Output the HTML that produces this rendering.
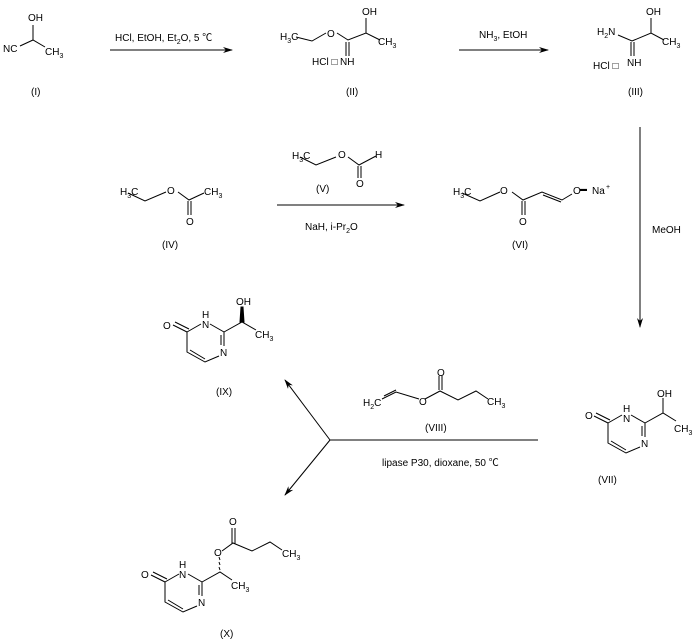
<!DOCTYPE html>
<html><head><meta charset="utf-8"><style>
html,body{margin:0;padding:0;background:#fff;}
svg{display:block;}
text{font-family:"Liberation Sans","Noto Sans CJK SC",sans-serif;font-size:10px;fill:#000;}
.s{font-size:7px;}
</style></head><body>
<svg width="700" height="642" viewBox="0 0 700 642" xmlns="http://www.w3.org/2000/svg">
<defs><marker id="a" markerWidth="10" markerHeight="6" refX="9" refY="3" orient="auto" markerUnits="userSpaceOnUse"><path d="M0,0 L10,3 L0,6 L3,3Z" fill="#000"/></marker></defs>
<g stroke="#000" stroke-width="1" fill="none">
<path d="M33,25 L33,40 M20,46 L33,40 L45,47"/>
<path d="M110,50 L232,50" marker-end="url(#a)"/>
<path d="M296,37 L312,41 L326,33 M337,33 L348,40 L366,33 L380,40 M366,33 L366,18 M346,42 L346,56 M349,42 L349,56"/>
<path d="M459,50 L548,50" marker-end="url(#a)"/>
<path d="M618,35 L632,41 L651,33 L664,40 M651,33 L651,18 M631,42 L631,56 M634,42 L634,56"/>
<path d="M128,193 L145,201 L166,192 M178,192 L189,200 L204,193 M188,201 L188,215 M191,201 L191,215"/>
<path d="M300,157 L316,165 L336,157 M348,157 L359,165 L376,156 M358,166 L358,178 M361,166 L361,178"/>
<path d="M277,205 L404,205" marker-end="url(#a)"/>
<path d="M462,193 L480,201 L500,192 M512,192 L523,200 L542,192 L562,200 L572,194 M543,195 L561,202 M522,201 L522,215 M525,201 L525,215"/>
<path d="M640,127 L640,327" marker-end="url(#a)"/>
<path d="M173,325 L187,332 M175,322 L189,329 M187,332 L201,324 M210,324 L224,332 L224,346 M221,335 L221,345 M219,356 L205,362 L187,352 L187,332 M190,350 L205,359 M224,332 L242,322 L256,330"/>
<path d="M240,322 L244,322 L243,307 L241,307Z" fill="#000"/>
<path d="M538,440 L330,440"/>
<path d="M330,440 L285,380" marker-end="url(#a)"/>
<path d="M330,440 L285,495" marker-end="url(#a)"/>
<path d="M382,399 L396,392 L419,399 M384,396 L396,390 M425,399 L440,391 L458,400 L476,391 L488,399 M439,390 L439,376 M442,390 L442,376"/>
<path d="M594,416 L608,423 M596,413 L610,420 M608,423 L622,415 M631,415 L645,423 L645,437 M642,426 L642,436 M640,447 L626,453 L608,443 L608,423 M611,441 L626,450 M645,423 L663,413 L676,421 M663,413 L663,398"/>
<path d="M151,575 L165,582 M153,572 L167,579 M165,582 L179,574 M188,574 L202,582 L202,596 M199,585 L199,595 M197,606 L183,612 L165,602 L165,582 M168,600 L183,609 M202,582 L220,572 L232,580 M219,557 L220,560 M219,562 L220,565 M219,567 L220,570 M222,551 L233,543 L252,551 L270,542 L282,550 M232,544 L232,528 M235,544 L235,528"/>
</g>
<text x="28" y="21">OH</text>
<text x="3" y="52">NC</text>
<text x="45" y="55">CH<tspan class="s" dy="3">3</tspan></text>
<text x="31" y="95">(I)</text>
<text x="115" y="41">HCl, EtOH, Et<tspan class="s" dy="3">2</tspan><tspan dy="-3">O, 5 ℃</tspan></text>
<text x="280" y="40">H<tspan class="s" dy="3">3</tspan><tspan dy="-3">C</tspan></text>
<text x="327" y="37">O</text>
<text x="362" y="15">OH</text>
<text x="378" y="45">CH<tspan class="s" dy="3">3</tspan></text>
<text x="312" y="65">HCl □</text>
<text x="340" y="65">NH</text>
<text x="346" y="95">(II)</text>
<text x="479" y="38">NH<tspan class="s" dy="3">3</tspan><tspan dy="-3">, EtOH</tspan></text>
<text x="597" y="35">H<tspan class="s" dy="3">2</tspan><tspan dy="-3">N</tspan></text>
<text x="646" y="15">OH</text>
<text x="662" y="45">CH<tspan class="s" dy="3">3</tspan></text>
<text x="593" y="69">HCl □</text>
<text x="627" y="66">NH</text>
<text x="628" y="95">(III)</text>
<text x="120" y="195">H<tspan class="s" dy="3">3</tspan><tspan dy="-3">C</tspan></text>
<text x="167" y="194">O</text>
<text x="204" y="195">CH<tspan class="s" dy="3">3</tspan></text>
<text x="186" y="225">O</text>
<text x="162" y="248">(IV)</text>
<text x="292" y="159">H<tspan class="s" dy="3">3</tspan><tspan dy="-3">C</tspan></text>
<text x="338" y="158">O</text>
<text x="375" y="158">H</text>
<text x="356" y="187">O</text>
<text x="316" y="192">(V)</text>
<text x="305" y="230">NaH, i-Pr<tspan class="s" dy="3">2</tspan><tspan dy="-3">O</tspan></text>
<text x="453" y="195">H<tspan class="s" dy="3">3</tspan><tspan dy="-3">C</tspan></text>
<text x="500" y="194">O</text>
<text x="573" y="194">O</text>
<text x="580" y="191" class="s">▬</text>
<text x="592" y="194">Na</text>
<text x="606" y="189" class="s">+</text>
<text x="519" y="225">O</text>
<text x="512" y="248">(VI)</text>
<text x="652" y="233">MeOH</text>
<text x="163" y="329">O</text>
<text x="202" y="318">H</text>
<text x="202" y="328">N</text>
<text x="220" y="356">N</text>
<text x="236" y="305">OH</text>
<text x="255" y="338">CH<tspan class="s" dy="3">3</tspan></text>
<text x="216" y="395">(IX)</text>
<text x="363" y="406">H<tspan class="s" dy="3">2</tspan><tspan dy="-3">C</tspan></text>
<text x="419" y="405">O</text>
<text x="437" y="376">O</text>
<text x="487" y="405">CH<tspan class="s" dy="3">3</tspan></text>
<text x="425" y="431">(VIII)</text>
<text x="382" y="466">lipase P30, dioxane, 50 ℃</text>
<text x="585" y="419">O</text>
<text x="623" y="412">H</text>
<text x="623" y="422">N</text>
<text x="641" y="447">N</text>
<text x="657" y="397">OH</text>
<text x="674" y="432">CH<tspan class="s" dy="3">3</tspan></text>
<text x="598" y="483">(VII)</text>
<text x="141" y="578">O</text>
<text x="179" y="568">H</text>
<text x="179" y="578">N</text>
<text x="198" y="606">N</text>
<text x="214" y="556">O</text>
<text x="229" y="525">O</text>
<text x="282" y="557">CH<tspan class="s" dy="3">3</tspan></text>
<text x="231" y="589">CH<tspan class="s" dy="3">3</tspan></text>
<text x="220" y="637">(X)</text>
</svg>
</body></html>
